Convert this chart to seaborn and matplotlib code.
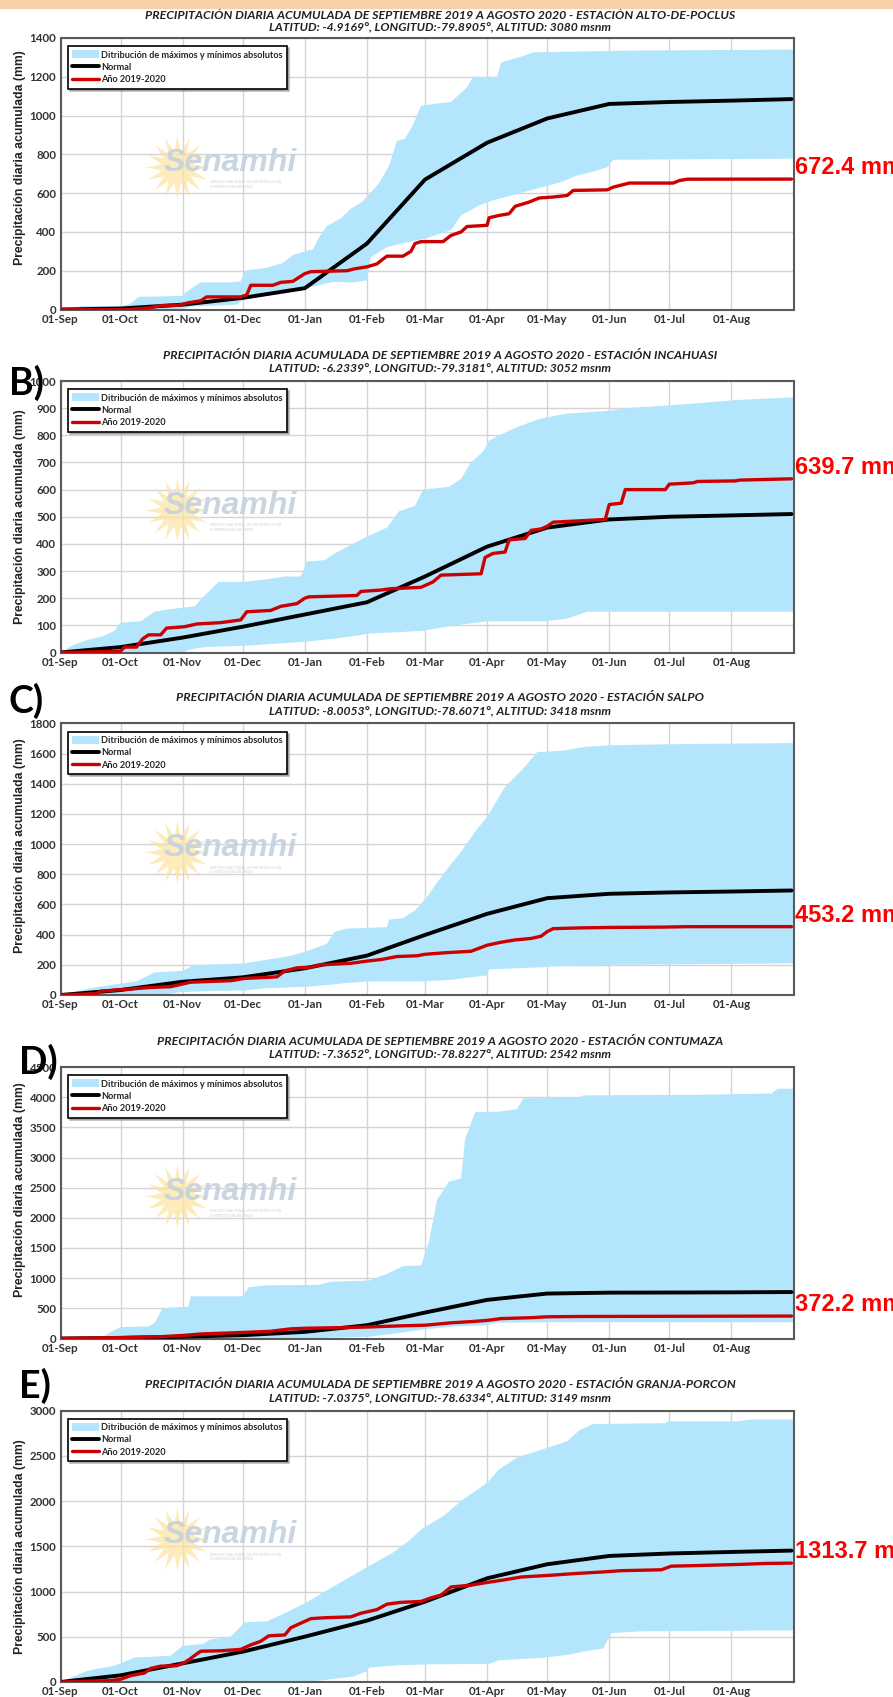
import numpy as np
import pandas as pd
import matplotlib
matplotlib.use('Agg')
import matplotlib.pyplot as plt
import seaborn as sns
from matplotlib.patches import Patch, Rectangle
from matplotlib.lines import Line2D

sns.set_theme(style='whitegrid')
plt.rcParams['font.family'] = ['Lato', 'DejaVu Sans']

# ejes x: dias desde 01-Sep-2019
inicio = pd.Timestamp('2019-09-01')
meses = pd.date_range('2019-09-01', '2020-08-01', freq='MS')
meses_lbl = ['01-Sep', '01-Oct', '01-Nov', '01-Dec', '01-Jan', '01-Feb',
             '01-Mar', '01-Apr', '01-May', '01-Jun', '01-Jul', '01-Aug']
norm_d = [0, 30, 61, 91, 122, 153, 182, 213, 243, 274, 304, 335, 365]

# ---------- A) ALTO-DE-POCLUS
a_max_d = [0, 7, 10, 31, 35, 39, 61, 62, 70, 85, 90, 92, 103, 111, 116, 122, 126, 129, 133, 140,
           145, 150, 153, 159, 164, 168, 172, 176, 180, 186, 195, 203, 206, 218, 220, 232, 236, 283, 366]
a_max_v = [0, 0, 18, 18, 30, 65, 70, 85, 140, 140, 145, 200, 215, 240, 280, 300, 310, 370, 430, 470,
           520, 550, 580, 650, 740, 870, 880, 950, 1050, 1060, 1070, 1146, 1200, 1200, 1274, 1310, 1326, 1335, 1340]
a_min_d = [0, 61, 65, 88, 92, 110, 122, 136, 146, 153, 155, 163, 170, 182, 195, 200, 209, 216, 233, 250,
           258, 265, 273, 276, 366]
a_min_v = [0, 0, 15, 25, 55, 80, 108, 142, 140, 150, 270, 322, 340, 365, 410, 485, 537, 563, 610, 657,
           691, 708, 734, 772, 778]
a_norm = [0, 5, 25, 60, 110, 340, 670, 860, 985, 1060, 1070, 1077, 1085]
a_anio_d = [0, 35, 37, 44, 50, 59, 64, 67, 70, 73, 90, 93, 95, 106, 110, 116, 119, 122, 125, 143,
            147, 153, 158, 161, 163, 171, 175, 177, 180, 191, 195, 200, 203, 213, 214, 219, 224, 227, 234, 239,
            246, 253, 256, 273, 276, 284, 306, 309, 313, 365]
a_anio_v = [0, 0, 3, 8, 20, 22, 35, 40, 45, 65, 65, 75, 125, 125, 140, 145, 165, 185, 195, 200,
            210, 220, 235, 260, 275, 275, 300, 340, 350, 350, 382, 400, 428, 434, 473, 485, 494, 532, 554, 575,
            580, 588, 614, 617, 631, 652, 652, 665, 672, 672.4]

# ---------- B) INCAHUASI
b_max_d = [0, 7, 13, 21, 27, 30, 40, 47, 55, 67, 72, 79, 92, 103, 112, 120, 123, 132, 137, 146,
           154, 163, 169, 177, 181, 194, 200, 205, 211, 214, 219, 228, 239, 253, 274, 282, 304, 338, 366]
b_max_v = [0, 30, 45, 60, 80, 110, 115, 150, 160, 170, 210, 260, 260, 270, 280, 280, 335, 340, 365, 400,
           430, 460, 520, 540, 600, 610, 640, 700, 740, 780, 800, 830, 860, 880, 890, 900, 910, 930, 940]
b_min_d = [0, 61, 64, 72, 92, 123, 135, 146, 154, 169, 181, 197, 213, 242, 253, 263, 366]
b_min_v = [0, 0, 10, 20, 25, 40, 50, 60, 70, 75, 80, 100, 115, 115, 125, 150, 150]
b_norm = [0, 20, 55, 95, 140, 185, 280, 390, 460, 490, 500, 505, 510]
b_anio_d = [0, 15, 30, 32, 38, 41, 44, 50, 53, 62, 68, 80, 90, 93, 105, 110, 118, 122, 124, 148,
            150, 160, 165, 180, 186, 190, 210, 212, 216, 222, 224, 232, 235, 240, 243, 246, 272, 274, 280, 282,
            302, 304, 316, 318, 337, 339, 365]
b_anio_v = [0, 2, 5, 20, 20, 50, 65, 65, 90, 95, 105, 110, 120, 150, 155, 170, 180, 200, 205, 210,
            225, 230, 235, 240, 260, 285, 290, 350, 365, 370, 415, 420, 450, 455, 465, 480, 490, 545, 550, 600,
            600, 620, 625, 630, 632, 635, 639.7]

# ---------- C) SALPO
c_max_d = [0, 17, 27, 38, 47, 61, 67, 84, 92, 106, 115, 123, 129, 133, 137, 143, 163, 164, 171, 177,
           183, 191, 200, 208, 213, 222, 231, 238, 251, 262, 274, 282, 319, 366]
c_max_v = [0, 50, 70, 90, 150, 160, 200, 205, 210, 240, 260, 290, 320, 340, 420, 440, 450, 500, 510, 560,
           650, 800, 950, 1100, 1180, 1380, 1500, 1610, 1620, 1645, 1655, 1658, 1665, 1670]
c_min_d = [0, 50, 61, 72, 92, 103, 123, 132, 143, 154, 181, 194, 213, 214, 242, 253, 274, 366]
c_min_v = [0, 0, 20, 25, 30, 45, 55, 65, 80, 90, 90, 100, 130, 170, 185, 195, 200, 210]
c_norm = [0, 33, 88, 117, 177, 261, 398, 538, 642, 671, 680, 686, 693]
c_anio_d = [0, 10, 18, 20, 25, 35, 45, 55, 60, 65, 75, 85, 92, 100, 108, 112, 118, 125, 130, 145,
            153, 160, 168, 178, 182, 192, 205, 213, 220, 227, 235, 240, 243, 246, 260, 275, 300, 313, 365]
c_anio_v = [0, 5, 10, 25, 30, 40, 50, 55, 70, 85, 90, 95, 110, 115, 120, 160, 180, 185, 200, 210,
            225, 235, 255, 260, 270, 280, 290, 330, 350, 365, 375, 390, 420, 440, 445, 448, 450, 453, 453.2]

# ---------- D) CONTUMAZA
d_max_d = [0, 21, 24, 30, 44, 47, 51, 64, 65, 91, 94, 103, 129, 135, 154, 163, 171, 180, 184, 188,
           194, 200, 202, 207, 219, 228, 231, 259, 261, 319, 355, 358, 366]
d_max_v = [0, 20, 90, 190, 200, 260, 500, 530, 700, 700, 850, 880, 890, 940, 960, 1070, 1200, 1210, 1600, 2300,
           2600, 2650, 3300, 3750, 3760, 3800, 3980, 3990, 4030, 4040, 4060, 4140, 4140]
d_min_d = [0, 123, 154, 169, 181, 197, 213, 217, 242, 366]
d_min_v = [0, 0, 30, 90, 150, 200, 220, 260, 270, 270]
d_norm = [0, 10, 30, 55, 110, 220, 430, 640, 745, 760, 762, 765, 770]
d_anio_d = [0, 30, 50, 61, 70, 91, 105, 115, 122, 140, 153, 170, 182, 195, 205, 213, 220, 235, 243, 260, 365]
d_anio_v = [0, 15, 30, 50, 75, 100, 120, 160, 170, 180, 190, 210, 220, 260, 280, 300, 330, 345, 360, 365, 372.2]

# ---------- E) GRANJA-PORCON
e_max_d = [0, 13, 17, 27, 37, 55, 61, 71, 75, 85, 92, 103, 112, 123, 132, 143, 154, 166, 174, 181,
           191, 200, 213, 219, 228, 242, 253, 259, 266, 302, 303, 338, 344, 366]
e_max_v = [0, 120, 140, 180, 270, 290, 400, 420, 470, 500, 660, 670, 760, 880, 1000, 1140, 1280, 1430, 1560, 1700,
           1830, 2000, 2200, 2350, 2480, 2580, 2660, 2780, 2850, 2860, 2880, 2880, 2900, 2900]
e_min_d = [0, 123, 135, 146, 153, 154, 169, 183, 214, 219, 242, 253, 262, 271, 275, 290, 366]
e_min_v = [0, 0, 30, 60, 120, 160, 185, 195, 200, 240, 270, 300, 340, 370, 540, 560, 570]
e_norm = [0, 74, 206, 335, 501, 678, 888, 1146, 1301, 1393, 1420, 1437, 1452]
e_anio_d = [0, 15, 25, 30, 35, 42, 45, 50, 58, 62, 65, 68, 70, 80, 90, 95, 100, 104, 112, 115,
            120, 125, 132, 145, 150, 158, 163, 170, 180, 185, 190, 195, 205, 213, 222, 230, 245, 258, 270, 280,
            300, 305, 315, 340, 352, 365]
e_anio_v = [0, 10, 15, 30, 70, 100, 150, 175, 180, 215, 260, 310, 340, 345, 360, 410, 450, 510, 520, 600,
            650, 700, 710, 720, 760, 800, 860, 880, 890, 930, 960, 1050, 1070, 1100, 1130, 1160, 1180, 1200, 1215, 1230,
            1240, 1280, 1285, 1300, 1310, 1313.7]

estaciones = ['ALTO-DE-POCLUS', 'INCAHUASI', 'SALPO', 'CONTUMAZA', 'GRANJA-PORCON']
coords = ['LATITUD: -4.9169°, LONGITUD:-79.8905°, ALTITUD: 3080 msnm',
          'LATITUD: -6.2339°, LONGITUD:-79.3181°, ALTITUD: 3052 msnm',
          'LATITUD: -8.0053°, LONGITUD:-78.6071°, ALTITUD: 3418 msnm',
          'LATITUD: -7.3652°, LONGITUD:-78.8227°, ALTITUD: 2542 msnm',
          'LATITUD: -7.0375°, LONGITUD:-78.6334°, ALTITUD: 3149 msnm']
ymax = [1400, 1000, 1800, 4500, 3000]
ystep = [200, 100, 200, 500, 500]
letras = ['', 'B)', 'C)', 'D)', 'E)']
letra_pos = [(0, 0), (9, 383), (9, 701), (19, 1062), (19, 1386)]   # px
ylab_y = [0.56, 0.5, 0.55, 0.55, 0.5]
tit_off = [(16.5, 7.5), (18.5, 8.5), (18.5, 8.5), (18.5, 8.5), (18.5, 8.5)]  # pt sobre el eje

datos = [
    (a_max_d, a_max_v, a_min_d, a_min_v, a_norm, a_anio_d, a_anio_v),
    (b_max_d, b_max_v, b_min_d, b_min_v, b_norm, b_anio_d, b_anio_v),
    (c_max_d, c_max_v, c_min_d, c_min_v, c_norm, c_anio_d, c_anio_v),
    (d_max_d, d_max_v, d_min_d, d_min_v, d_norm, d_anio_d, d_anio_v),
    (e_max_d, e_max_v, e_min_d, e_min_v, e_norm, e_anio_d, e_anio_v),
]

AZUL = '#b3e5fc'
ROJO = '#cc0000'
W, H = 893, 1697
fig = plt.figure(figsize=(W / 100, H / 100), dpi=100)
fig.patches.append(Rectangle((0, 1 - 8 / H), 1, 8 / H, transform=fig.transFigure,
                             color='#f9cfa9', zorder=0))

tops = [38, 381, 723.5, 1067, 1410.5]
left, width, height = 60.5, 733, 271.5
ticks_x = (meses - inicio).days

for i, (mxd, mxv, mnd, mnv, nrm, ad, av) in enumerate(datos):
    ax = fig.add_axes([left / W, 1 - (tops[i] + height) / H, width / W, height / H])
    ax.set_facecolor('white')
    # banda max/min
    ax.fill(np.r_[mxd, mnd[::-1]], np.r_[mxv, mnv[::-1]], color=AZUL, lw=0, zorder=2)
    df_n = pd.DataFrame({'dia': norm_d, 'pp': nrm})
    df_a = pd.DataFrame({'dia': ad, 'pp': av})
    sns.lineplot(data=df_n, x='dia', y='pp', ax=ax, color='black', lw=2.8, estimator=None, zorder=4)
    sns.lineplot(data=df_a, x='dia', y='pp', ax=ax, color=ROJO, lw=2.4, estimator=None, zorder=5)

    ax.set_xlim(0, 366)
    ax.set_ylim(0, ymax[i])
    ax.set_xticks(ticks_x)
    ax.set_xticklabels(meses_lbl)
    ax.set_yticks(np.arange(0, ymax[i] + 1, ystep[i]))
    ax.tick_params(length=0, pad=3, labelsize=8.3, labelcolor='#333333')
    for t in ax.get_xticklabels() + ax.get_yticklabels():
        t.set_fontweight('bold')
    ax.grid(True, color='#d4d4d4', lw=1)
    for s in ax.spines.values():
        s.set_color('#5a5a5a')
        s.set_linewidth(1.5)
        s.set_visible(True)
    ax.set_xlabel('')
    ax.set_ylabel('Precipitación diaria acumulada (mm)', fontsize=8.8, fontweight='bold',
                  family=['Liberation Sans', 'DejaVu Sans'], color='#222222')
    ax.yaxis.set_label_coords(-0.047, ylab_y[i])

    # titulos
    ax.annotate('PRECIPITACIÓN DIARIA ACUMULADA DE SEPTIEMBRE 2019 A AGOSTO 2020 - ESTACIÓN ' + estaciones[i],
                xy=(0.518, 1), xycoords='axes fraction', xytext=(0, tit_off[i][0]), textcoords='offset points',
                ha='center', va='center', fontsize=8.9, fontweight='bold', style='italic', color='#222222')
    ax.annotate(coords[i], xy=(0.518, 1), xycoords='axes fraction', xytext=(0, tit_off[i][1]),
                textcoords='offset points', ha='center', va='center', fontsize=8.7,
                fontweight='bold', style='italic', color='#222222')

    # marca de agua
    ax.plot([0.159], [0.526], marker=(16, 1, 0), ms=46, color='#fde3a0', mec='none',
            alpha=0.7, transform=ax.transAxes, zorder=1)
    ax.text(0.140, 0.54, 'Senamhi', transform=ax.transAxes, fontsize=23, fontweight='bold',
            style='italic', color='#c3d1de', ha='left', va='center', alpha=0.9, zorder=1,
            family=['Liberation Sans', 'DejaVu Sans'])
    ax.text(0.204, 0.46, 'SERVICIO NACIONAL DE METEOROLOGÍA\nE HIDROLOGÍA DEL PERÚ',
            transform=ax.transAxes, fontsize=2.6, color='#c8d2dc', ha='left', va='center',
            zorder=1, linespacing=1.1)

    # leyenda
    handles = [Patch(facecolor=AZUL, edgecolor='none'),
               Line2D([], [], color='black', lw=2.8),
               Line2D([], [], color=ROJO, lw=2.4)]
    leg = ax.legend(handles, ['Ditribución de máximos y mínimos absolutos', 'Normal', 'Año 2019-2020'],
                    loc='upper left', bbox_to_anchor=(0.0102, 0.97), borderaxespad=0,
                    fontsize=6.6, handlelength=2.9, handleheight=1.0, handletextpad=0.3,
                    labelspacing=0.35, borderpad=0.45, fancybox=False, framealpha=1,
                    edgecolor='black', shadow={'ox': 1.5, 'oy': -1.5, 'color': '0.55', 'alpha': 0.6})
    leg.get_frame().set_linewidth(1.2)
    for t in leg.get_texts():
        t.set_fontweight('bold')
    leg.set_zorder(6)

    # etiqueta del total
    ax.annotate(f'{av[-1]:.1f} mm', xy=(1.0, av[-1]), xycoords=('axes fraction', 'data'),
                xytext=(1, 0), textcoords='offset points', ha='left', va='bottom',
                fontsize=17, fontweight='bold', color='#ff0000', annotation_clip=False,
                family=['Liberation Sans', 'DejaVu Sans'])

    if letras[i]:
        fig.text(letra_pos[i][0] / W, 1 - letra_pos[i][1] / H, letras[i], fontsize=27,
                 fontweight='bold', ha='left', va='center', color='black')

fig.savefig('out.png', dpi=100)
